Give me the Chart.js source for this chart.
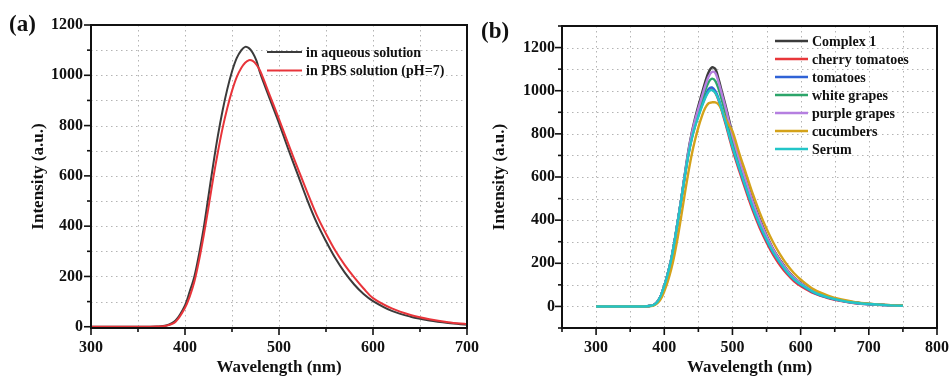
<!DOCTYPE html>
<html>
<head>
<meta charset="utf-8">
<script src="https://cdn.jsdelivr.net/npm/chart.js@4.4.1/dist/chart.umd.min.js"></script>
<style>
  html, body { margin: 0; padding: 0; background: #fff; }
  #wrap { position: relative; width: 951px; height: 378px; overflow: hidden; background: #fff; }
  #chartA { position: absolute; left: 0; top: 0; }
  #chartB { position: absolute; left: 478px; top: 0; }
</style>
</head>
<body>
<div id="wrap">
  <canvas id="chartA" width="482" height="378"></canvas>
  <canvas id="chartB" width="473" height="378"></canvas>
</div>
<script>
// ---- panel (a) : donnees ----
const wavelengthA = [300, 350, 370, 380, 390, 400, 405, 410, 415, 420,
                     425, 430, 435, 440, 445, 450, 455, 460,
                     464, 468, 472, 476, 480,
                     490, 500, 510, 520, 530, 540, 550, 560, 570, 580, 590, 600,
                     620, 640, 660, 680, 700];
const aqueous = [0, 0, 1, 5, 25, 85, 140, 200, 290, 395,
                 520, 645, 760, 860, 945, 1015, 1068, 1100,
                 1113, 1108, 1090, 1058, 1008,
                 908, 810, 705, 605, 505, 415, 340, 272, 215, 168, 130, 102,
                 63, 40, 25, 15, 8];
const pbs = [0, 0, 1, 4, 20, 75, 120, 180, 265, 365,
             475, 590, 695, 790, 870, 938, 993, 1030,
             1050, 1060, 1057, 1042, 1017,
             922, 826, 726, 630, 535, 445, 370, 302, 245, 196, 152, 114,
             73, 47, 30, 18, 10];
const labelsA = ['in aqueous solution', 'in PBS solution (pH=7)'];

const xTicksA = [300, 350, 400, 450, 500, 550, 600, 650, 700];
const xLabelsA = [300, 400, 500, 600, 700];
const yTicksA = [0, 100, 200, 300, 400, 500, 600, 700, 800, 900, 1000, 1100, 1200];
const yLabelsA = [0, 200, 400, 600, 800, 1000, 1200];

// ---- panel (b) ----
const wavelengthB = [300, 350, 370, 380, 385, 390, 395, 400, 405, 410,
                     415, 420, 425, 430, 435, 440, 445, 450, 455, 460,
                     465, 470, 475, 480, 485, 490, 495, 500,
                     510, 520, 530, 540, 550, 560, 570, 580, 590, 600,
                     620, 640, 660, 680, 700, 725, 750];
const complex1 = [0, 0, 0, 3, 8, 22, 50, 95, 150, 215,
                  300, 400, 500, 610, 715, 800, 870, 930, 985, 1040,
                  1085, 1108, 1100, 1050, 990, 930, 865, 800,
                  690, 590, 490, 405, 330, 265, 215, 170, 135, 110,
                  70, 45, 28, 18, 12, 7, 4];
const cherryTomatoes = [0, 0, 0, 3, 8, 22, 50, 95, 150, 215,
                        300, 398, 498, 602, 698, 776, 836, 885, 930, 970,
                        1000, 1008, 990, 952, 900, 845, 786, 728,
                        628, 533, 443, 364, 297, 238, 190, 150, 118, 95,
                        60, 39, 25, 15, 10, 6, 3];
const tomatoes = [0, 0, 0, 3, 8, 22, 50, 95, 150, 215,
                  300, 398, 498, 603, 700, 780, 840, 890, 935, 975,
                  1008, 1015, 998, 960, 908, 855, 797, 740,
                  640, 545, 455, 375, 307, 248, 200, 158, 125, 100,
                  63, 41, 26, 16, 10, 6, 3];
const whiteGrapes = [0, 0, 0, 3, 8, 22, 50, 95, 150, 215,
                     300, 398, 498, 605, 705, 788, 852, 905, 953, 1000,
                     1040, 1056, 1045, 1005, 950, 893, 832, 772,
                     665, 568, 472, 390, 318, 256, 208, 164, 130, 106,
                     66, 43, 27, 17, 11, 6, 3];
const purpleGrapes = [0, 0, 0, 3, 8, 22, 50, 95, 150, 215,
                      300, 400, 500, 608, 710, 795, 862, 918, 970, 1022,
                      1065, 1087, 1082, 1035, 978, 920, 855, 792,
                      682, 582, 484, 400, 326, 262, 212, 168, 133, 108,
                      68, 44, 27, 17, 11, 6, 3];
const cucumbers = [0, 0, 0, 2, 5, 15, 35, 70, 115, 170,
                   240, 325, 420, 520, 615, 700, 770, 830, 880, 920,
                   942, 946, 946, 935, 905, 870, 840, 812,
                   710, 615, 520, 435, 360, 295, 240, 193, 155, 125,
                   78, 50, 32, 20, 13, 7, 4];
const serum = [0, 0, 0, 3, 8, 22, 50, 95, 150, 215,
               300, 398, 497, 600, 695, 772, 832, 880, 925, 965,
               995, 1003, 990, 955, 905, 853, 796, 740,
               642, 548, 458, 378, 310, 250, 202, 160, 127, 103,
               65, 42, 27, 17, 11, 6, 3];
const labelsB = ['Complex 1', 'cherry tomatoes', 'tomatoes', 'white grapes',
                 'purple grapes', 'cucumbers', 'Serum'];

const xTicksB = [250, 300, 350, 400, 450, 500, 550, 600, 650, 700, 750, 800];
const xLabelsB = [300, 400, 500, 600, 700, 800];
const yTicksB = [-100, 0, 100, 200, 300, 400, 500, 600, 700, 800, 900, 1000, 1100, 1200, 1300];
const yLabelsB = [0, 200, 400, 600, 800, 1000, 1200];

const serif = "'Liberation Serif', 'Times New Roman', serif";

function pts(xs, ys) {
    return xs.map((x, i) => ({ x: x, y: ys[i] }));
}

// grille pointillee, cadre, graduations, legende et etiquette du panneau
function framePlugin(cfg) {
    return {
        id: 'frame' + cfg.tag,
        beforeDatasetsDraw(chart) {
            const { ctx, chartArea: a, scales } = chart;
            ctx.save();
            ctx.strokeStyle = '#b4b4b4';
            ctx.lineWidth = 1;
            ctx.setLineDash([1.5, 3.5]);
            scales.x.ticks.forEach(t => {
                const px = Math.round(scales.x.getPixelForValue(t.value)) + 0.5;
                ctx.beginPath();
                ctx.moveTo(px, a.top);
                ctx.lineTo(px, a.bottom);
                ctx.stroke();
            });
            scales.y.ticks.forEach(t => {
                const py = Math.round(scales.y.getPixelForValue(t.value)) + 0.5;
                ctx.beginPath();
                ctx.moveTo(a.left, py);
                ctx.lineTo(a.right, py);
                ctx.stroke();
            });
            ctx.restore();
        },
        afterDatasetsDraw(chart) {
            const { ctx, chartArea: a, scales } = chart;
            ctx.save();
            ctx.strokeStyle = '#111';
            ctx.lineWidth = 1.6;
            scales.x.ticks.forEach(t => {
                const px = scales.x.getPixelForValue(t.value);
                const len = cfg.xMajor.includes(t.value) ? 7 : 4;
                ctx.beginPath();
                ctx.moveTo(px, a.bottom);
                ctx.lineTo(px, a.bottom + len);
                ctx.stroke();
            });
            scales.y.ticks.forEach(t => {
                const py = scales.y.getPixelForValue(t.value);
                const len = cfg.yMajor.includes(t.value) ? 7 : 4;
                ctx.beginPath();
                ctx.moveTo(a.left, py);
                ctx.lineTo(a.left - len, py);
                ctx.stroke();
            });
            ctx.lineWidth = 2;
            ctx.strokeRect(a.left, a.top, a.right - a.left, a.bottom - a.top);

            // legende
            ctx.font = 'bold 14px ' + serif;
            ctx.textBaseline = 'middle';
            ctx.textAlign = 'left';
            chart.data.datasets.forEach((ds, i) => {
                const y = cfg.legY + i * cfg.legRow;
                ctx.strokeStyle = ds.borderColor;
                ctx.lineWidth = cfg.legWidth;
                ctx.beginPath();
                ctx.moveTo(cfg.legX0, y);
                ctx.lineTo(cfg.legX1, y);
                ctx.stroke();
                ctx.fillStyle = '#111';
                ctx.fillText(ds.label, cfg.legX1 + 4, y + 1);
            });

            // (a) / (b)
            ctx.font = 'bold 23px ' + serif;
            ctx.fillStyle = '#111';
            ctx.fillText(cfg.tag, cfg.tagX, cfg.tagY);
            ctx.restore();
        }
    };
}

function axisOpts(tickVals, labelVals, min, max, title, titlePad, fitSize, horizontal, labelPad) {
    return {
        type: 'linear',
        min: min,
        max: max,
        afterBuildTicks: s => { s.ticks = tickVals.map(v => ({ value: v })); },
        afterFit: s => {
            if (horizontal) s.height = fitSize; else s.width = fitSize;
            s.paddingLeft = 0; s.paddingRight = 0; s.paddingTop = 0; s.paddingBottom = 0;
        },
        ticks: {
            autoSkip: false,
            maxRotation: 0,
            padding: labelPad,
            color: '#111',
            font: { family: serif, size: 16, weight: 'bold' },
            callback: v => labelVals.includes(v) ? String(v) : ''
        },
        grid: { display: false, drawTicks: false },
        border: { display: false },
        title: {
            display: true,
            text: title,
            color: '#111',
            padding: { top: titlePad, bottom: 0 },
            font: { family: serif, size: 17, weight: 'bold' }
        }
    };
}

// ---- graphique (a) ----
new Chart(document.getElementById('chartA').getContext('2d'), {
    type: 'line',
    data: {
        datasets: [{
            label: labelsA[0],
            data: pts(wavelengthA, aqueous),
            borderColor: '#3b3b3b',
            borderWidth: 2,
            order: 1
        }, {
            label: labelsA[1],
            data: pts(wavelengthA, pbs),
            borderColor: '#e8343a',
            borderWidth: 2,
            order: 0
        }]
    },
    options: {
        responsive: false,
        animation: false,
        layout: { padding: { left: 0, top: 25, right: 15, bottom: 0 } },
        elements: { point: { radius: 0 }, line: { tension: 0.35 } },
        plugins: { legend: { display: false }, tooltip: { enabled: false } },
        scales: {
            x: axisOpts(xTicksA, xLabelsA, 300, 700, 'Wavelength (nm)', 0, 50, true, 10),
            y: axisOpts(yTicksA, yLabelsA, -5, 1200, 'Intensity (a.u.)', 28, 91, false, 8)
        }
    },
    plugins: [framePlugin({
        tag: '(a)', tagX: 9, tagY: 25,
        xMajor: xLabelsA, yMajor: yLabelsA,
        legX0: 267, legX1: 302, legY: 52, legRow: 18.5, legWidth: 2
    })]
});

// ---- graphique (b) ----
const colorsB = ['#3b3b3b', '#e8373a', '#2f62d6', '#2ca56a', '#b57fe0', '#d4a21a', '#22c5c8'];
const seriesB = [complex1, cherryTomatoes, tomatoes, whiteGrapes, purpleGrapes, cucumbers, serum];

new Chart(document.getElementById('chartB').getContext('2d'), {
    type: 'line',
    data: {
        datasets: seriesB.map((s, i) => ({
            label: labelsB[i],
            data: pts(wavelengthB, s),
            borderColor: colorsB[i],
            borderWidth: 2.4,
            order: seriesB.length - i
        }))
    },
    options: {
        responsive: false,
        animation: false,
        layout: { padding: { left: 0, top: 26, right: 14, bottom: 0 } },
        elements: { point: { radius: 0 }, line: { tension: 0.35 } },
        plugins: { legend: { display: false }, tooltip: { enabled: false } },
        scales: {
            x: axisOpts(xTicksB, xLabelsB, 250, 800, 'Wavelength (nm)', 0, 50, true, 10),
            y: axisOpts(yTicksB, yLabelsB, -100, 1300, 'Intensity (a.u.)', 11, 84, false, 7)
        }
    },
    plugins: [framePlugin({
        tag: '(b)', tagX: 3, tagY: 32,
        xMajor: xLabelsB, yMajor: yLabelsB,
        legX0: 297, legX1: 330, legY: 41, legRow: 18, legWidth: 2.4
    })]
});
</script>
</body>
</html>
